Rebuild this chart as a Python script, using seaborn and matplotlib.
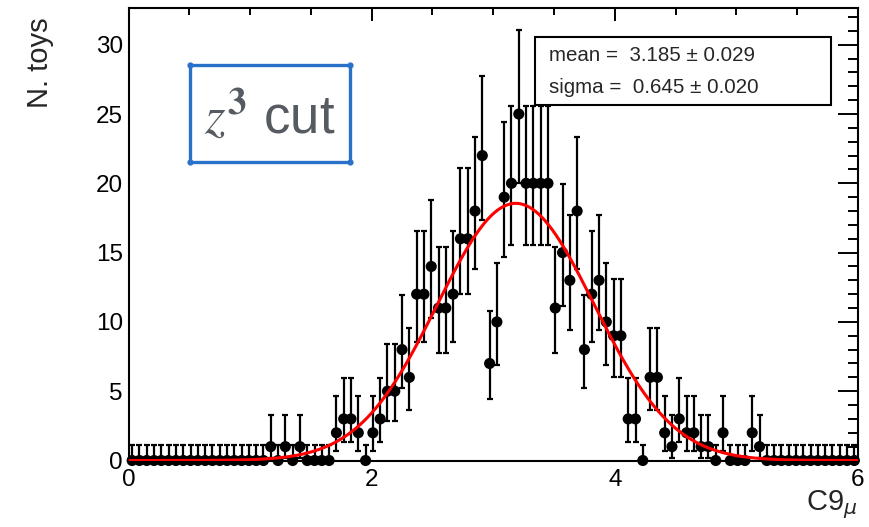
import math
import numpy as np
import pandas as pd
import matplotlib
matplotlib.use("Agg")
import matplotlib.pyplot as plt
from matplotlib.patches import Rectangle
from matplotlib.ticker import MultipleLocator
import seaborn as sns

# Toy-study histogram of the fitted C9 value: 100 bins on [0, 6]
x_min, x_max, n_bins = 0.0, 6.0, 100
counts = [
    0, 0, 0, 0, 0, 0, 0, 0, 0, 0,
    0, 0, 0, 0, 0, 0, 0, 0, 0, 1,
    0, 1, 0, 1, 0, 0, 0, 0, 2, 3,
    3, 2, 0, 2, 3, 5, 5, 8, 6, 12,
    12, 14, 11, 11, 12, 16, 16, 18, 22, 7,
    10, 19, 20, 25, 20, 20, 20, 20, 11, 15,
    13, 18, 8, 12, 13, 10, 9, 9, 3, 3,
    0, 6, 6, 2, 1, 3, 2, 2, 1, 1,
    0, 2, 0, 0, 0, 2, 1, 0, 0, 0,
    0, 0, 0, 0, 0, 0, 0, 0, 0, 0,
]

# Gaussian fit result
fit_mean, fit_mean_err = 3.185, 0.029
fit_sigma, fit_sigma_err = 0.645, 0.020

x_ticks = [0, 2, 4, 6]
y_ticks = [0, 5, 10, 15, 20, 25, 30]


def poisson_interval(n, cl=0.682689):
    """Central Poisson interval (one-sided upper limit for an empty bin)."""
    alpha = 1.0 - cl

    def cdf(k, mu):
        return sum(math.exp(-mu + j * math.log(mu) - math.lgamma(j + 1))
                   for j in range(k + 1))

    def solve(target, k):
        lo, hi = 1e-9, n + 20.0 + 10.0 * math.sqrt(n + 1)
        for _ in range(100):
            mid = 0.5 * (lo + hi)
            if cdf(k, mid) > target:
                lo = mid
            else:
                hi = mid
        return 0.5 * (lo + hi)

    if n == 0:
        return 0.0, -math.log(alpha)
    return solve(1.0 - alpha / 2.0, n - 1), solve(alpha / 2.0, n)


bin_w = (x_max - x_min) / n_bins
centers = x_min + bin_w * (np.arange(n_bins) + 0.5)
hist = pd.DataFrame({"c9": centers, "n": counts})
intervals = [poisson_interval(n) for n in counts]
hist["err_lo"] = [n - lo for n, (lo, hi) in zip(counts, intervals)]
hist["err_hi"] = [hi - n for n, (lo, hi) in zip(counts, intervals)]

n_toys = sum(counts)
xs = np.linspace(x_min, x_max, 600)
amp = n_toys * bin_w / (math.sqrt(2 * math.pi) * fit_sigma)
fit = pd.DataFrame({"c9": xs,
                    "pdf": amp * np.exp(-0.5 * ((xs - fit_mean) / fit_sigma) ** 2)})

sns.set_theme(style="white")
plt.rcParams["font.family"] = ["Liberation Sans", "DejaVu Sans"]

W, H = 869, 527
fig = plt.figure(figsize=(W / 100, H / 100), dpi=100)
L, R, T, B = 128.5, 858.0, 8.0, 460.5
ax = fig.add_axes([L / W, 1 - B / H, (R - L) / W, (B - T) / H])

ax.errorbar(hist["c9"], hist["n"], yerr=[hist["err_lo"], hist["err_hi"]],
            fmt="none", ecolor="black", elinewidth=1.6, capsize=1.9,
            capthick=1.6, zorder=2)
sns.scatterplot(data=hist, x="c9", y="n", color="black", s=64,
                edgecolor="none", linewidth=0, ax=ax, zorder=3,
                clip_on=False, legend=False)
sns.lineplot(data=fit, x="c9", y="pdf", color="#ff0000", linewidth=2.2,
             ax=ax, zorder=4)

ax.set_xlim(x_min, x_max)
ax.set_ylim(0, 32.65)
ax.set_xlabel("")
ax.set_ylabel("")
ax.set_xticks(x_ticks)
ax.set_yticks(y_ticks)
ax.xaxis.set_minor_locator(MultipleLocator(0.5))
ax.yaxis.set_minor_locator(MultipleLocator(1))
ax.tick_params(axis="both", which="both", direction="in", top=True,
               right=True, colors="black", width=1.4, labelsize=17.5)
ax.tick_params(axis="x", which="major", length=9.5, pad=6)
ax.tick_params(axis="x", which="minor", length=4.8)
ax.tick_params(axis="y", which="major", length=14.5, pad=4)
ax.tick_params(axis="y", which="minor", length=7.2)
for sp in ax.spines.values():
    sp.set_visible(True)
    sp.set_color("black")
    sp.set_linewidth(1.5)

ax.text(-0.121, 0.98, "N. toys", rotation=90, ha="center", va="top",
        fontsize=21, transform=ax.transAxes)
ax.text(1.0, -0.062, r"C9$_{\mu}$", ha="right", va="top", fontsize=21,
        transform=ax.transAxes, clip_on=False)

# Fit parameter box
ax.add_patch(Rectangle((0.557, 0.786), 0.406, 0.150, transform=ax.transAxes,
                       facecolor="white", edgecolor="black", linewidth=1.5,
                       zorder=10))
ax.text(0.5764, 0.896, f"mean =  {fit_mean:.3f} \u00b1 {fit_mean_err:.3f}",
        ha="left", va="center", fontsize=14.8, transform=ax.transAxes,
        zorder=11)
ax.text(0.5764, 0.825, f"sigma =  {fit_sigma:.3f} \u00b1 {fit_sigma_err:.3f}",
        ha="left", va="center", fontsize=14.8, transform=ax.transAxes,
        zorder=11)

# Selection label
bx0, bx1, by0, by1 = 0.0843, 0.3036, 0.660, 0.874
ax.add_patch(Rectangle((bx0, by0), bx1 - bx0, by1 - by0, transform=ax.transAxes,
                       facecolor="white", edgecolor="#2a72c9", linewidth=2.4,
                       zorder=10))
ax.scatter([bx0, bx1, bx0, bx1], [by0, by0, by1, by1],
           s=12, color="#2a72c9", transform=ax.transAxes, zorder=11,
           clip_on=False)
ax.text((bx0 + bx1) / 2, (by0 + by1) / 2 - 0.008,
        r"$\mathit{z}^{\mathbf{3}}$ cut", ha="center", va="center",
        fontsize=38, color="#565b61", math_fontfamily="stix",
        transform=ax.transAxes, zorder=12)

fig.savefig("out.png", dpi=100)
